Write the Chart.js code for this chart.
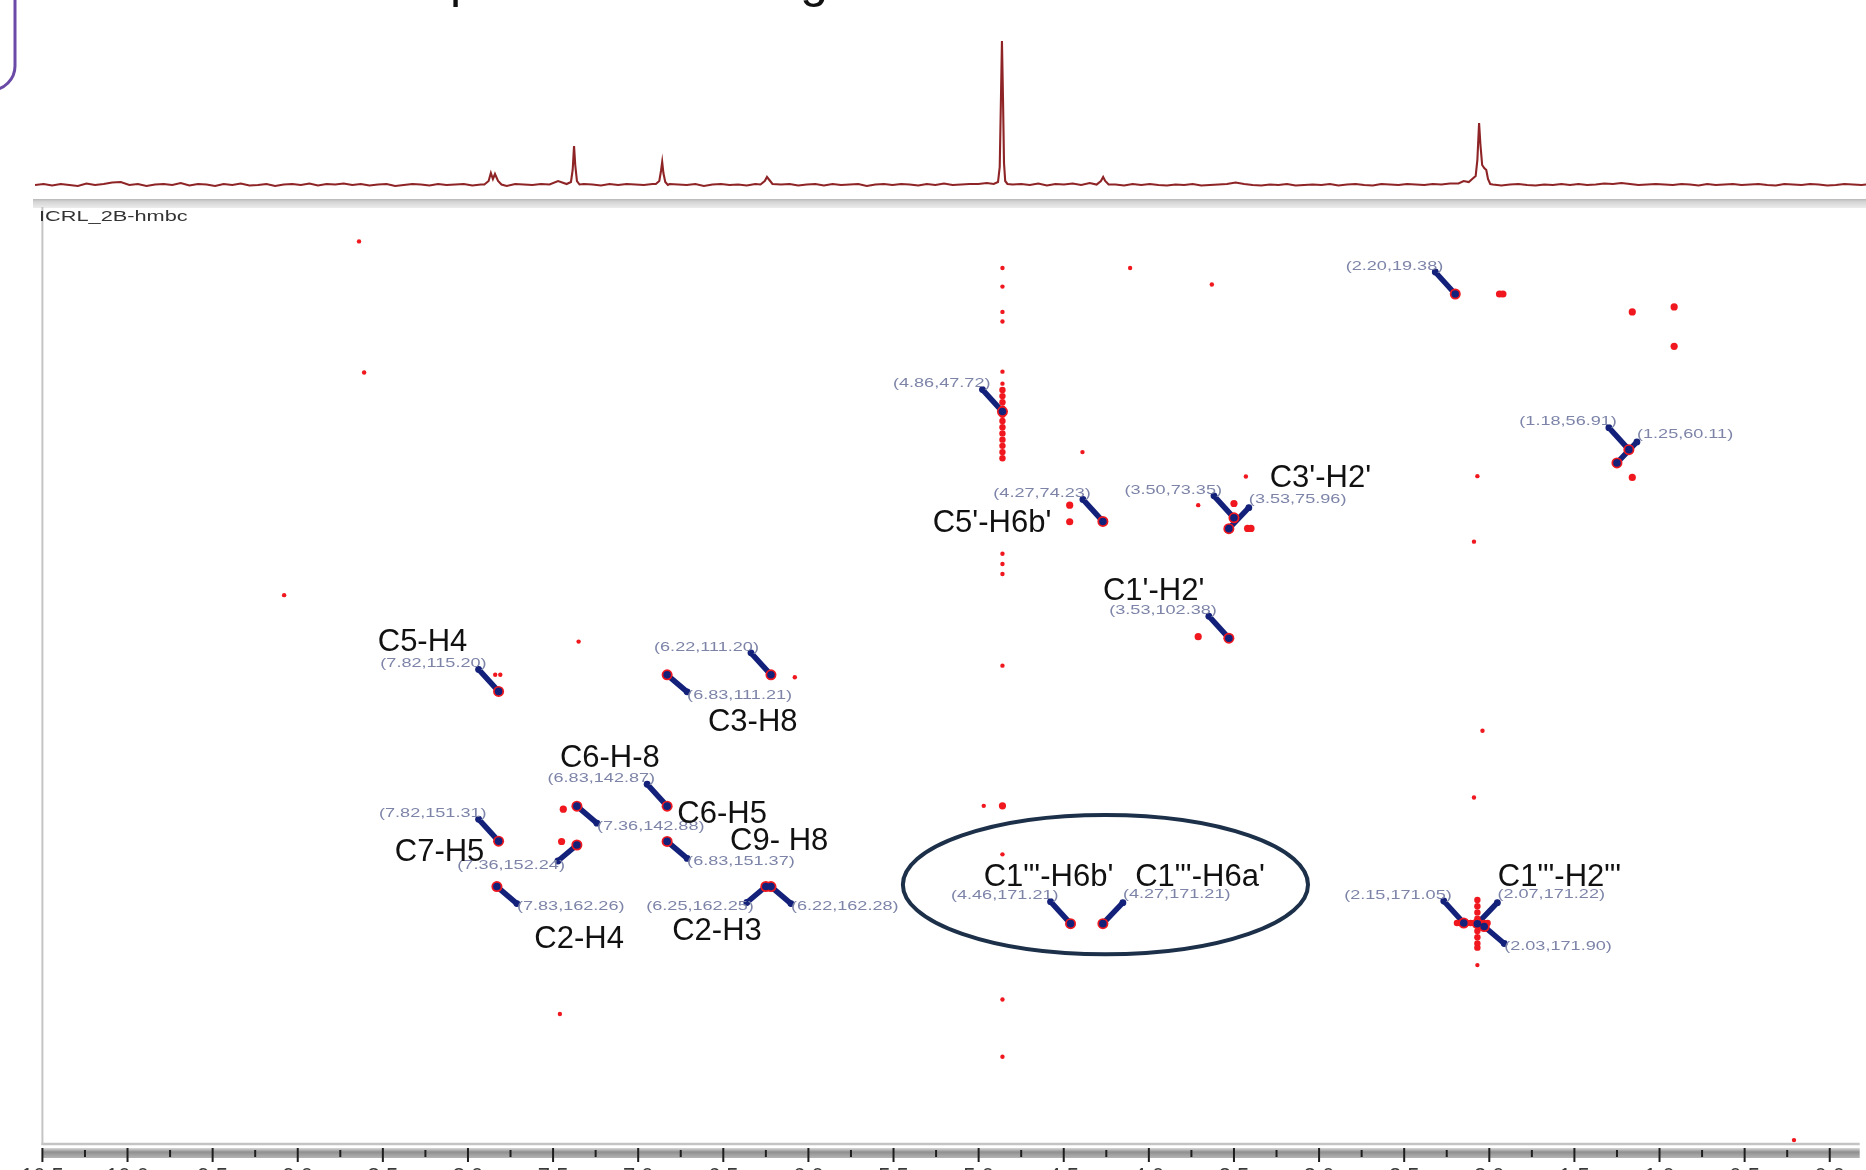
<!DOCTYPE html>
<html>
<head>
<meta charset="utf-8">
<title>ICRL_2B HMBC</title>
<script src="https://cdn.jsdelivr.net/npm/chart.js@4.4.1/dist/chart.umd.min.js"></script>
<style>
  html, body { margin: 0; padding: 0; background: #fff; overflow: hidden; width: 1866px; height: 1170px; }
  #wrap { position: relative; width: 1866px; height: 1170px; overflow: hidden; }
  #map  { position: absolute; left: 0; top: 0; z-index: 1; }
  #proj { position: absolute; left: 0; top: 0; z-index: 2; }
</style>
</head>
<body>
<div id="wrap">
  <canvas id="map" width="1866" height="1200"></canvas>
  <canvas id="proj" width="1866" height="200"></canvas>
</div>
<script>
// ---------------- 1H projection (F2) ----------------
// baseline ripple, one value every 0.05 ppm starting at 10.50 ppm
const baselineStart = 10.50;
const baselineStep = 0.05;
const baseline = [
  0, 1, -0.5, 1, 0, -1, 1.5, 0, 1, 2.5,
  3, 0, 1, -1, 0.5, 1, 0, 2, -0.5, 1,
  0.5, -1, 1, 0, 1.5, -0.5, 0, 1, -1, 0.5,
  1, 0, 1.5, -0.5, 1, 0.5, 1.5, 0, 1, -0.5,
  0.5, 1, -1, 0, 1, 0.5, -0.5, 1, 0, 0.5,
  1, -0.5, 0.5, 0, 1, -1, 1, 0.5, 0, 1,
  0.5, 4, 1, 0, 1, 0.5, -0.5, 1, 0, 1,
  0.5, 0, 1, -0.5, 1, 0.5, 0, 1, -1, 0.5,
  1, 0, 0.5, -0.5, 1, 1, 0, 0.5, 1, -0.5,
  0.5, 1, -0.5, 1, 0, 0.5, 1, -1, 0.5, 1,
  0, 1, 0.5, -0.5, 1, 0, 1.5, 0, 0.5, 1,
  1, 2, 0.5, -1, 0.5, 1, 0, 1.5, -0.5, 1,
  0.5, 1.5, 0, 2, 0, 1, 0.5, -0.5, 1, 0,
  1, 0, -0.5, 0.5, 0, 1, -0.5, 0, 0.5, 1,
  2.5, 1, 0, -0.5, 0.5, 0, 1, -0.5, 0, 0.5,
  0, 1, -0.5, 0.5, 1, 0, -0.5, 1, 0.5, 0,
  1, 0.5, 0, 1, 0.5, 1.5, 2, 3, 5, 8,
  0, -0.5, 0.5, 1, 0, -0.5, 0.5, 0, 1, 0,
  1, 0, 0.5, 1.5, 1, 2, 1, 0, 0.5, 1,
  0.5, 0, 1, 0.5, -0.5, 1, 0, 0.5, 1, 0,
  0.5, 1, 0, -0.5, 1, 0.5, 0, 1, 0.5, -0.5,
  0, 1, 0.5, 0, 1
];
// resolved signals: [ppm, height]
const peak786 = [[7.88, 0.5], [7.855, 4], [7.842, 12], [7.83, 6], [7.818, 11], [7.80, 4], [7.78, 0.5]];
const peak736 = [[7.40, 1], [7.375, 3], [7.365, 15], [7.357, 39], [7.35, 20], [7.34, 4], [7.325, 0.5]];
const peak683 = [[6.88, 1], [6.86, 4], [6.85, 14], [6.843, 23], [6.836, 12], [6.825, 3], [6.81, 0]];
const peak622 = [[6.27, 0.5], [6.245, 4], [6.232, 8], [6.218, 5], [6.20, 1]];
const peak486 = [[4.91, 1], [4.885, 3], [4.875, 18], [4.868, 85], [4.862, 144], [4.856, 88], [4.85, 22], [4.843, 4], [4.83, 1]];
const peak427 = [[4.31, 0.5], [4.285, 4], [4.272, 8], [4.26, 4], [4.24, 0.5]];
const peak207 = [[2.20, 1.5], [2.17, 4], [2.14, 3], [2.12, 6], [2.10, 9], [2.09, 25], [2.08, 62], [2.072, 40],
                 [2.062, 20], [2.05, 17], [2.038, 15], [2.028, 6], [2.015, 1], [2.00, 0.5]];
const peakShapes = [peak786, peak736, peak683, peak622, peak486, peak427, peak207];

// ---------------- HMBC cross peaks (F2 1H ppm, F1 13C ppm) ----------------
const peakH = [2.20, 4.86, 1.18, 1.25, 4.27, 3.50, 3.53, 3.53, 7.82, 6.22, 6.83, 6.83,
               7.36, 7.82, 7.36, 6.83, 7.83, 6.25, 6.22, 4.46, 4.27, 2.15, 2.07, 2.03];
const peakC = [19.38, 47.72, 56.91, 60.11, 74.23, 73.35, 75.96, 102.38, 115.20, 111.20, 111.21, 142.87,
               142.88, 151.31, 152.24, 151.37, 162.26, 162.25, 162.28, 171.21, 171.21, 171.05, 171.22, 171.90];
const labelDir = ['nw', 'nw', 'nw', 'ne', 'nw', 'nw', 'ne', 'nw', 'nw', 'nw', 'se', 'nw',
                  'se', 'nw', 'sw', 'se', 'se', 'sw', 'se', 'nw', 'ne', 'nw', 'ne', 'se'];

// unassigned responses and t1 noise
const noiseH = [8.64, 8.61, 9.08, 7.35, 7.46, 4.11, 3.63, 4.39, 2.09, 2.04, 2.09, 0.21,
                4.86, 4.86, 4.86, 4.86, 4.86, 4.86, 4.86, 4.86, 4.86, 4.86, 4.86, 4.86, 4.86,
                3.71, 3.43, 6.08, 2.07, 2.07, 4.97, 7.84, 7.81];
const noiseC = [6.7, 38.3, 92.0, 103.2, 193.0, 13.1, 17.1, 57.5, 79.1, 124.7, 140.8, 223.4,
                13.1, 17.6, 23.7, 26.0, 38.1, 41.0, 82.0, 84.5, 86.9, 109.0, 154.5, 189.5, 203.3,
                70.3, 63.4, 111.8, 181.2, 63.3, 142.8, 111.2, 111.2];
const blobH = [1.16, 0.914, 0.914, 1.16, 4.86, 1.94, 1.92, 3.50, 3.42, 3.40, 4.465, 4.465, 3.71, 7.44, 7.45];
const blobC = [23.7, 22.5, 32.0, 63.6, 142.8, 19.38, 19.38, 69.9, 75.9, 75.9, 70.3, 74.3, 102.0, 143.6, 151.4];
const streakH = [4.86, 4.86, 4.86, 4.86, 4.86, 4.86, 4.86, 4.86, 4.86, 4.86, 4.86, 4.86,
                 2.07, 2.07, 2.07, 2.07, 2.07, 2.07, 2.07, 2.07, 2.07,
                 2.19, 2.17, 2.15, 2.13, 2.11, 2.09, 2.05, 2.03, 2.01];
const streakC = [42.5, 44.0, 45.5, 47.0, 48.5, 50.0, 51.5, 53.0, 54.5, 56.0, 57.5, 59.0,
                 165.5, 167.0, 168.5, 170.0, 171.5, 173.0, 174.5, 176.0, 177.0,
                 171.05, 171.05, 171.05, 171.05, 171.05, 171.05, 171.05, 171.05, 171.05];

// correlation assignments (text anchored at 1H / 13C ppm)
const assignText = ['C5-H4', 'C3-H8', 'C6-H-8', 'C6-H5', 'C9- H8', 'C7-H5', 'C2-H4', 'C2-H3',
                    "C5'-H6b'", "C3'-H2'", "C1'-H2'", "C1\"'-H6b'", "C1\"'-H6a'", "C1\"'-H2\"'"];
const assignH = [8.53, 6.59, 7.46, 6.77, 6.46, 8.43, 7.61, 6.80, 5.27, 3.29, 4.27, 4.97, 4.08, 1.95];
const assignC = [103.4, 122.7, 131.3, 144.8, 151.4, 154.0, 174.9, 173.2, 74.8, 63.9, 91.1, 160.0, 160.0, 160.0];

// highlighted region around the anomeric ester correlations
const highlightH = 4.255, highlightC = 161.8, highlightHalfH = 1.19, highlightHalfC = 16.8;

// axis ticks (ppm)
const majorTicks = [10.5, 10.0, 9.5, 9.0, 8.5, 8.0, 7.5, 7.0, 6.5, 6.0, 5.5, 5.0,
                    4.5, 4.0, 3.5, 3.0, 2.5, 2.0, 1.5, 1.0, 0.5, 0.0];
const minorTicks = [10.25, 9.75, 9.25, 8.75, 8.25, 7.75, 7.25, 6.75, 6.25, 5.75, 5.25, 4.75,
                    4.25, 3.75, 3.25, 2.75, 2.25, 1.75, 1.25, 0.75, 0.25];

// ---------------- build series ----------------
const H_MIN = -0.176, H_MAX = 10.5;
const C_MIN = -2.08, C_MAX = 224.1;

const ranges = peakShapes.map(p => [Math.min(...p.map(q => q[0])), Math.max(...p.map(q => q[0]))]);
const spectrum = [];
baseline.forEach((v, i) => {
  const ppm = +(baselineStart - baselineStep * i).toFixed(3);
  if (!ranges.some(r => ppm >= r[0] - 0.006 && ppm <= r[1] + 0.006)) spectrum.push({ x: ppm, y: v });
});
peakShapes.forEach(p => p.forEach(([x, y]) => spectrum.push({ x, y })));
spectrum.sort((a, b) => b.x - a.x);

const pts = (hs, cs) => hs.map((h, i) => ({ x: h, y: cs[i] }));

const SANS = '"Liberation Sans", Arial, Helvetica, sans-serif';
const NAVY = '#14217a';
const RED = '#f0181e';

// ---------------- projection chart ----------------
const headerDecor = {
  id: 'headerDecor',
  afterDraw(chart) {
    const ctx = chart.ctx;
    ctx.save();
    ctx.setTransform(1, 0, 0, 1, 0, 0);
    ctx.strokeStyle = '#6a49a7';
    ctx.lineWidth = 3;
    ctx.beginPath();
    ctx.moveTo(15, -5);
    ctx.lineTo(15, 66);
    ctx.arcTo(15, 90, -5, 90, 24);
    ctx.lineTo(-5, 90);
    ctx.stroke();
    // slide title above the frame: only its descenders reach into view
    ctx.fillStyle = '#111';
    ctx.font = '50px ' + SANS;
    ctx.textAlign = 'left';
    ctx.textBaseline = 'alphabetic';
    const x0 = 450 - ctx.measureText('HMBC s').width;
    ctx.fillText('HMBC spectrum showing', x0, -3);
    ctx.restore();
  }
};

new Chart(document.getElementById('proj'), {
  type: 'line',
  data: {
    datasets: [{
      data: spectrum,
      borderColor: '#8e2426',
      borderWidth: 2.1,
      pointRadius: 0,
      tension: 0,
      fill: false
    }]
  },
  options: {
    responsive: false,
    animation: false,
    devicePixelRatio: 1,
    layout: { padding: { left: 35, right: 0, top: 30, bottom: 10 } },
    scales: {
      x: { type: 'linear', min: H_MIN, max: H_MAX, reverse: true, display: false },
      y: { type: 'linear', min: -5, max: 155, display: false }
    },
    plugins: { legend: { display: false }, tooltip: { enabled: false } }
  },
  plugins: [headerDecor]
});

// ---------------- HMBC map chart ----------------
const LABEL_OFFSETS = {
  nw: { tx: -12, ty: -28, align: 'right', ax: -20, ay: -22 },
  ne: { tx: 20, ty: -29, align: 'left', ax: 20, ay: -21 },
  se: { tx: 20, ty: 20, align: 'left', ax: 20, ay: 17 },
  sw: { tx: -12, ty: 20, align: 'right', ax: -19, ay: 16 }
};

const mapFrame = {
  id: 'mapFrame',
  beforeDraw(chart) {
    const { ctx, chartArea: a } = chart;
    ctx.save();
    // separator between projection and map
    const g = ctx.createLinearGradient(0, 199, 0, 208);
    g.addColorStop(0, '#b8b8b8');
    g.addColorStop(0.3, '#d4d4d4');
    g.addColorStop(1, '#ececec');
    ctx.fillStyle = g;
    ctx.fillRect(33, 199, 1866 - 33, 9);
    // left and bottom frame
    ctx.strokeStyle = '#c4c4c4';
    ctx.lineWidth = 2;
    ctx.beginPath();
    ctx.moveTo(a.left, 207);
    ctx.lineTo(a.left, a.bottom + 2);
    ctx.stroke();
    ctx.lineWidth = 2.5;
    ctx.beginPath();
    ctx.moveTo(a.left - 1, a.bottom + 1);
    ctx.lineTo(a.right, a.bottom + 1);
    ctx.stroke();
    ctx.restore();
  },
  beforeDatasetsDraw(chart) {
    const { ctx, scales: { x, y } } = chart;
    ctx.save();
    ctx.strokeStyle = NAVY;
    ctx.fillStyle = NAVY;
    ctx.lineCap = 'round';
    peakH.forEach((h, i) => {
      const px = x.getPixelForValue(h), py = y.getPixelForValue(peakC[i]);
      const o = LABEL_OFFSETS[labelDir[i]];
      ctx.lineWidth = 5.5;
      ctx.beginPath();
      ctx.moveTo(px + o.ax, py + o.ay);
      ctx.lineTo(px, py);
      ctx.stroke();
      ctx.beginPath();
      ctx.arc(px + o.ax, py + o.ay, 3.4, 0, Math.PI * 2);
      ctx.fill();
    });
    ctx.restore();
  },
  afterDatasetsDraw(chart) {
    const { ctx, scales: { x, y } } = chart;
    ctx.save();
    // coordinate labels
    ctx.fillStyle = '#7d84a8';
    ctx.font = '13.5px ' + SANS;
    ctx.textBaseline = 'middle';
    peakH.forEach((h, i) => {
      const px = x.getPixelForValue(h), py = y.getPixelForValue(peakC[i]);
      const o = LABEL_OFFSETS[labelDir[i]];
      ctx.save();
      ctx.translate(px + o.tx, py + o.ty);
      ctx.scale(1.34, 1);
      ctx.textAlign = o.align;
      ctx.fillText('(' + h.toFixed(2) + ',' + peakC[i].toFixed(2) + ')', 0, 0);
      ctx.restore();
    });
    // assignments
    ctx.fillStyle = '#111';
    ctx.font = '31px ' + SANS;
    ctx.textAlign = 'left';
    ctx.textBaseline = 'middle';
    assignText.forEach((t, i) => {
      ctx.fillText(t, x.getPixelForValue(assignH[i]), y.getPixelForValue(assignC[i]));
    });
    // highlight ellipse
    const cx = x.getPixelForValue(highlightH), cy = y.getPixelForValue(highlightC);
    const rx = Math.abs(x.getPixelForValue(highlightH + highlightHalfH) - cx);
    const ry = Math.abs(y.getPixelForValue(highlightC + highlightHalfC) - cy);
    ctx.strokeStyle = '#1d3049';
    ctx.lineWidth = 4;
    ctx.beginPath();
    ctx.ellipse(cx, cy, rx, ry, 0, 0, Math.PI * 2);
    ctx.stroke();
    ctx.restore();
  },
  afterDraw(chart) {
    const { ctx, chartArea: a, scales: { x } } = chart;
    ctx.save();
    // tick band
    const g = ctx.createLinearGradient(0, 1148, 0, 1158);
    g.addColorStop(0, '#dadada');
    g.addColorStop(0.4, '#8f8f8f');
    g.addColorStop(1, '#b4b4b4');
    ctx.fillStyle = g;
    ctx.fillRect(a.left, 1148, a.right - a.left, 10);
    ctx.strokeStyle = '#1e1e1e';
    ctx.lineWidth = 2;
    x.ticks.forEach(t => {
      const px = x.getPixelForValue(t.value);
      const major = majorTicks.includes(t.value);
      ctx.beginPath();
      ctx.moveTo(px, major ? 1148 : 1150);
      ctx.lineTo(px, major ? 1162 : 1157);
      ctx.stroke();
    });
    // experiment name
    ctx.fillStyle = '#333';
    ctx.font = '14.5px ' + SANS;
    ctx.textBaseline = 'middle';
    ctx.textAlign = 'left';
    ctx.translate(39, 217);
    ctx.scale(1.5, 1);
    ctx.fillText('ICRL_2B-hmbc', 0, 0);
    ctx.restore();
  }
};

new Chart(document.getElementById('map'), {
  type: 'scatter',
  data: {
    datasets: [
      { data: pts(peakH, peakC), backgroundColor: NAVY, borderWidth: 0, pointRadius: 3.8, order: 0 },
      { data: pts(peakH, peakC), backgroundColor: RED, borderWidth: 0, pointRadius: 5.5, order: 1 },
      { data: pts(blobH, blobC), backgroundColor: RED, borderWidth: 0, pointRadius: 3.6, order: 2 },
      { data: pts(streakH, streakC), backgroundColor: RED, borderWidth: 0, pointRadius: 3.2, order: 3 },
      { data: pts(noiseH, noiseC), backgroundColor: RED, borderWidth: 0, pointRadius: 2.2, order: 4 }
    ]
  },
  options: {
    responsive: false,
    animation: false,
    devicePixelRatio: 1,
    layout: { padding: { left: 35, right: 0, top: 205, bottom: 0 } },
    scales: {
      x: {
        type: 'linear', min: H_MIN, max: H_MAX, reverse: true, position: 'bottom',
        afterFit: s => { s.height = 1200 - 1143; },
        afterBuildTicks: s => {
          s.ticks = [...majorTicks, ...minorTicks].sort((p, q) => q - p).map(v => ({ value: v }));
        },
        grid: { display: false, drawTicks: false },
        border: { display: false },
        ticks: {
          autoSkip: false, maxRotation: 0, minRotation: 0, padding: 21,
          color: '#3a3a3a', font: { family: SANS, size: 22 },
          callback: v => majorTicks.includes(v) ? v.toFixed(1) : ''
        }
      },
      y: { type: 'linear', min: C_MIN, max: C_MAX, reverse: true, display: false }
    },
    plugins: { legend: { display: false }, tooltip: { enabled: false } }
  },
  plugins: [mapFrame]
});
</script>
</body>
</html>
